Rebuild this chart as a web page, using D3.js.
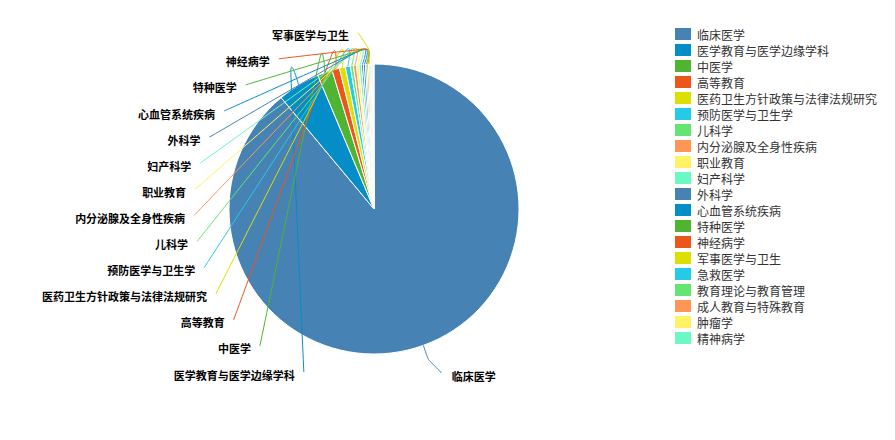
<!DOCTYPE html>
<html>
<head>
<meta charset="utf-8">
<script src="https://cdn.jsdelivr.net/npm/d3@7"></script>
<style>
  html, body { margin: 0; padding: 0; background: #fff; }
  svg { display: block; }
  text { font-family: "Noto Sans CJK SC", "Microsoft YaHei", sans-serif; }
</style>
</head>
<body>
<svg id="chart" width="895" height="440"></svg>
<script>
// Subject categories and their counts
const categories = [
  "临床医学", "医学教育与医学边缘学科", "中医学", "高等教育",
  "医药卫生方针政策与法律法规研究", "预防医学与卫生学", "儿科学",
  "内分泌腺及全身性疾病", "职业教育", "妇产科学", "外科学",
  "心血管系统疾病", "特种医学", "神经病学", "军事医学与卫生",
  "急救医学", "教育理论与教育管理", "成人教育与特殊教育", "肿瘤学", "精神病学"
];
const values = [1600, 85, 30, 15, 12, 10, 6, 6, 5, 5, 4, 4, 3, 3, 3, 2, 2, 2, 1, 1];
// Slices that carry an outside label
const labelled = [0, 1, 2, 3, 4, 5, 6, 7, 8, 9, 10, 11, 12, 13, 14];

const palette = ["#4682B4", "#058DC7", "#50B432", "#ED561B", "#DDDF00",
                 "#24CBE5", "#64E572", "#FF9655", "#FFF263", "#6AF9C4"];

const svg = d3.select("#chart");
const cx = 374, cy = 209, radius = 145;

const color = d3.scaleOrdinal().domain(categories).range(palette);

const data = categories.map((name, i) => ({ name, value: values[i] }));
const pie = d3.pie().value(d => d.value).sort(null);
const arcs = pie(data);
const arc = d3.arc().innerRadius(0).outerRadius(radius);

const g = svg.append("g").attr("transform", `translate(${cx},${cy})`);

g.selectAll("path.slice")
  .data(arcs)
  .join("path")
  .attr("class", "slice")
  .attr("d", arc)
  .attr("fill", d => color(d.data.name))
  .attr("stroke", "#fff")
  .attr("stroke-width", 1);

// Label layout: labels stacked along an ellipse around the pie
const ellA = 180, ellB = 177, spacing = 26.1, bottomOffset = 163, len1 = 15;
const polar = (ang, r) => [r * Math.sin(ang), -r * Math.cos(ang)];

const labels = [];
let leftCount = 0;
labelled.forEach(i => {
  const a = arcs[i];
  const mid = (a.startAngle + a.endAngle) / 2;
  const right = Math.sin(mid) > 0;
  let ly;
  if (right) {
    ly = bottomOffset + 1;
  } else {
    ly = bottomOffset - leftCount * spacing;
    leftCount++;
  }
  const t = Math.max(0, 1 - (ly / ellB) * (ly / ellB));
  const lx = (right ? 1 : -1) * ellA * Math.sqrt(t);
  labels.push({
    d: a, right,
    pts: [polar(mid, radius), polar(mid, radius + len1), [lx, ly]]
  });
});

const lineGen = d3.line().curve(d3.curveCardinal.tension(0.65));

g.selectAll("path.leader")
  .data(labels)
  .join("path")
  .attr("class", "leader")
  .attr("d", d => lineGen(d.pts))
  .attr("fill", "none")
  .attr("stroke", d => color(d.d.data.name))
  .attr("stroke-width", 1);

g.selectAll("text.lbl")
  .data(labels)
  .join("text")
  .attr("class", "lbl")
  .attr("x", d => d.pts[2][0] + (d.right ? 10 : -9))
  .attr("y", d => d.pts[2][1] + 2.5)
  .attr("text-anchor", d => d.right ? "start" : "end")
  .attr("dominant-baseline", "central")
  .attr("font-size", 11)
  .attr("font-weight", "bold")
  .attr("fill", "#000")
  .text(d => d.d.data.name);

// Legend
const legend = svg.append("g").attr("transform", "translate(675,34)");
const rowH = 16;
const items = legend.selectAll("g.item")
  .data(categories)
  .join("g")
  .attr("class", "item")
  .attr("transform", (d, i) => `translate(0,${i * rowH})`);
items.append("rect")
  .attr("x", 0).attr("y", -6)
  .attr("width", 16).attr("height", 12)
  .attr("fill", d => color(d));
items.append("text")
  .attr("x", 22).attr("y", 0)
  .attr("dominant-baseline", "central")
  .attr("font-size", 12)
  .attr("fill", "#333")
  .text(d => d);
</script>
</body>
</html>
